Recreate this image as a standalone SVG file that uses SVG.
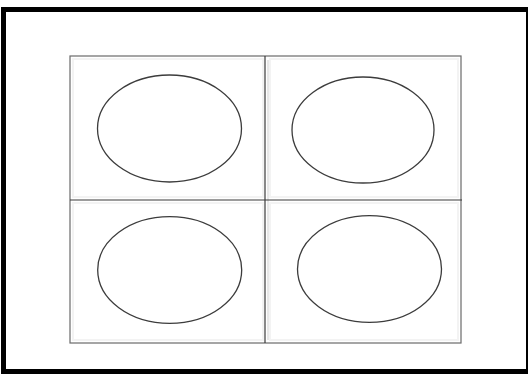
<svg xmlns="http://www.w3.org/2000/svg" width="528" height="374" viewBox="0 0 528 374">
  <style>
    .cell { fill: none; stroke: #6a6a6a; stroke-width: 1.2; }
    .shade { fill: none; stroke: #f3f3f3; stroke-width: 2; }
    .grid { stroke: #3a3a3a; stroke-width: 1.2; }
    .oval { fill: #ffffff; stroke: #3c3c3c; stroke-width: 1.3; }
  </style>
  <rect x="0" y="0" width="528" height="374" fill="#ffffff"/>
  <g id="frame">
    <path d="M1,7 H528 V374 H1 Z M6,12 V369 H526 V12 Z" fill="#000000" fill-rule="evenodd"/>
  </g>
  <g id="shading">
    <rect class="shade" x="73" y="59" width="190" height="138"/>
    <rect class="shade" x="270" y="59" width="188" height="138"/>
    <rect class="shade" x="73" y="203" width="190" height="137"/>
    <rect class="shade" x="270" y="203" width="188" height="137"/>
  </g>
  <g id="grid">
    <rect class="cell" x="70" y="56" width="391" height="287"/>
    <line class="grid" x1="265" y1="56" x2="265" y2="343"/>
    <line x1="268" y1="60" x2="268" y2="340" stroke="#cfcfcf" stroke-width="1"/>
    <line class="grid" x1="70" y1="200" x2="462" y2="200"/>
  </g>
  <g id="node-top-left">
    <ellipse class="oval" cx="169.5" cy="128.5" rx="72" ry="53.5"/>
  </g>
  <g id="node-top-right">
    <ellipse class="oval" cx="363" cy="130" rx="71" ry="53"/>
  </g>
  <g id="node-bottom-left">
    <ellipse class="oval" cx="169.7" cy="270" rx="72" ry="53.3"/>
  </g>
  <g id="node-bottom-right">
    <ellipse class="oval" cx="369.5" cy="269" rx="72" ry="53.3"/>
  </g>
</svg>
